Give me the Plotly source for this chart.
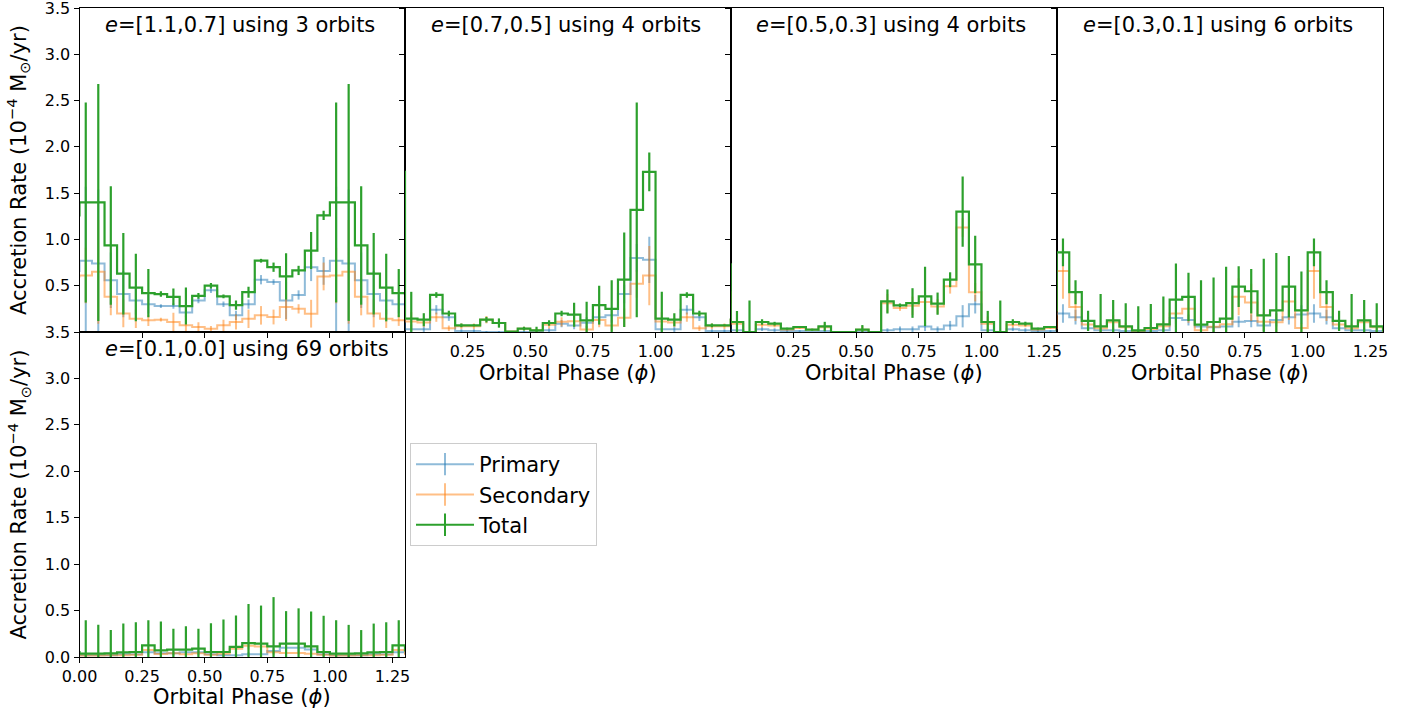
import plotly.graph_objects as go

# ---------------- data ----------------
# orbital-phase bin centres (bin width 0.05); the plot shows phase -> 1.3,
# i.e. the folded curve is repeated after phase 1.0
phase = [0.025, 0.075, 0.125, 0.175, 0.225, 0.275, 0.325, 0.375, 0.425, 0.475,
         0.525, 0.575, 0.625, 0.675, 0.725, 0.775, 0.825, 0.875, 0.925, 0.975]
phase_shown = [-0.025] + phase + [1.025, 1.075, 1.125, 1.175, 1.225, 1.275, 1.325]

titles = ["<i>e</i>=[1.1,0.7] using 3 orbits", "<i>e</i>=[0.7,0.5] using 4 orbits",
          "<i>e</i>=[0.5,0.3] using 4 orbits", "<i>e</i>=[0.3,0.1] using 6 orbits",
          "<i>e</i>=[0.1,0.0] using 69 orbits"]

# panel 1: e = [1.1, 0.7]
p1_primary = [0.77, 0.74, 0.56, 0.41, 0.34, 0.30, 0.28, 0.28, 0.21, 0.34,
              0.45, 0.30, 0.18, 0.30, 0.565, 0.54, 0.34, 0.40, 0.70, 0.66]
p1_primary_err = [0.8, 0.8, 0.3, 0.25, 0.15, 0.1, 0.02, 0.03, 0.05, 0.03,
                  0.03, 0.03, 0.05, 0.05, 0.05, 0.03, 0.2, 0.05, 0.15, 0.15]
p1_secondary = [0.61, 0.65, 0.38, 0.20, 0.144, 0.126, 0.133, 0.108, 0.072, 0.054,
                0.036, 0.072, 0.108, 0.144, 0.18, 0.162, 0.27, 0.25, 0.198, 0.60]
p1_secondary_err = [0.3, 0.56, 0.2, 0.15, 0.1, 0.06, 0.02, 0.1, 0.1, 0.05,
                    0.03, 0.06, 0.08, 0.1, 0.1, 0.08, 0.15, 0.05, 0.15, 0.15]
p1_total = [1.40, 1.40, 0.935, 0.63, 0.48, 0.42, 0.41, 0.38, 0.28, 0.39,
            0.50, 0.385, 0.29, 0.43, 0.77, 0.70, 0.60, 0.665, 0.88, 1.26]
p1_total_err = [1.08, 1.28, 0.64, 0.44, 0.365, 0.26, 0.03, 0.09, 0.2, 0.03,
                0.03, 0.02, 0.05, 0.06, 0.02, 0.05, 0.25, 0.05, 0.2, 0.05]

# panel 2: e = [0.7, 0.5]
p2_primary = [0.03, 0.03, 0.24, 0.16, 0.01, 0.01, 0.0, 0.0, 0.0, 0.0,
              0.0, 0.02, 0.09, 0.07, 0.10, 0.16, 0.18, 0.41, 0.80, 0.78]
p2_primary_err = [0.05, 0.03, 0.05, 0.04, 0.02, 0.02, 0.01, 0.01, 0.0, 0.01,
                  0.01, 0.02, 0.04, 0.04, 0.06, 0.08, 0.08, 0.1, 0.15, 0.25]
p2_secondary = [0.114, 0.103, 0.16, 0.04, 0.062, 0.062, 0.133, 0.097, 0.005, 0.036,
                0.018, 0.077, 0.11, 0.117, 0.026, 0.13, 0.07, 0.155, 0.52, 0.61]
p2_secondary_err = [0.1, 0.05, 0.05, 0.03, 0.03, 0.03, 0.04, 0.04, 0.0, 0.02,
                    0.02, 0.04, 0.05, 0.06, 0.04, 0.08, 0.06, 0.1, 0.15, 0.32]
p2_total = [0.144, 0.133, 0.40, 0.20, 0.072, 0.072, 0.133, 0.097, 0.005, 0.036,
            0.018, 0.097, 0.20, 0.187, 0.126, 0.29, 0.25, 0.565, 1.32, 1.73]
p2_total_err = [0.29, 0.07, 0.03, 0.03, 0.02, 0.01, 0.03, 0.05, 0.0, 0.02,
                0.04, 0.03, 0.03, 0.13, 0.2, 0.21, 0.31, 0.51, 1.16, 0.21]

# panel 3: e = [0.5, 0.3]
p3_primary = [0.02, 0.0, 0.03, 0.02, 0.01, 0.01, 0.0, 0.01, 0.0, 0.0,
              0.0, 0.0, 0.02, 0.03, 0.03, 0.06, 0.03, 0.07, 0.17, 0.30]
p3_primary_err = [0.02, 0.0, 0.02, 0.02, 0.01, 0.01, 0.0, 0.01, 0.0, 0.0,
                  0.0, 0.0, 0.02, 0.03, 0.03, 0.05, 0.03, 0.05, 0.12, 0.1]
p3_secondary = [0.088, 0.0, 0.078, 0.07, 0.026, 0.044, 0.025, 0.05, 0.0, 0.0,
                0.025, 0.0, 0.31, 0.258, 0.283, 0.325, 0.276, 0.495, 1.13, 0.43]
p3_secondary_err = [0.08, 0.0, 0.03, 0.02, 0.01, 0.01, 0.01, 0.04, 0.0, 0.0,
                    0.04, 0.0, 0.1, 0.03, 0.1, 0.1, 0.08, 0.08, 0.1, 0.1]
p3_total = [0.108, 0.0, 0.108, 0.09, 0.036, 0.054, 0.025, 0.06, 0.0, 0.0,
            0.025, 0.0, 0.33, 0.288, 0.313, 0.385, 0.306, 0.565, 1.30, 0.73]
p3_total_err = [0.12, 0.34, 0.03, 0.02, 0.01, 0.01, 0.01, 0.05, 0.0, 0.0,
                0.05, 0.0, 0.13, 0.02, 0.16, 0.32, 0.12, 0.08, 0.38, 0.31]

# panel 4: e = [0.3, 0.1]
p4_primary = [0.20, 0.16, 0.04, 0.02, 0.02, 0.01, 0.01, 0.01, 0.02, 0.15,
              0.13, 0.06, 0.05, 0.06, 0.11, 0.12, 0.07, 0.13, 0.16, 0.19]
p4_primary_err = [0.1, 0.08, 0.03, 0.02, 0.02, 0.01, 0.01, 0.01, 0.02, 0.06,
                  0.06, 0.05, 0.05, 0.05, 0.06, 0.07, 0.06, 0.07, 0.08, 0.1]
p4_secondary = [0.66, 0.27, 0.08, 0.04, 0.106, 0.05, 0.008, 0.033, 0.063, 0.20,
                0.25, 0.02, 0.058, 0.084, 0.38, 0.32, 0.11, 0.104, 0.33, 0.044]
p4_secondary_err = [0.3, 0.15, 0.05, 0.05, 0.08, 0.05, 0.02, 0.04, 0.05, 0.15,
                    0.15, 0.05, 0.06, 0.08, 0.2, 0.2, 0.1, 0.1, 0.2, 0.05]
p4_total = [0.86, 0.43, 0.12, 0.06, 0.126, 0.06, 0.018, 0.043, 0.083, 0.35,
            0.38, 0.08, 0.108, 0.144, 0.49, 0.44, 0.18, 0.234, 0.49, 0.234]
p4_total_err = [0.15, 0.13, 0.11, 0.35, 0.22, 0.25, 0.26, 0.26, 0.30, 0.39,
                0.26, 0.48, 0.48, 0.56, 0.22, 0.24, 0.61, 0.62, 0.33, 0.42]

# panel 5: e = [0.1, 0.0]
p5_primary = [0.02, 0.02, 0.02, 0.03, 0.03, 0.05, 0.04, 0.04, 0.05, 0.05,
              0.03, 0.02, 0.02, 0.03, 0.03, 0.065, 0.10, 0.10, 0.08, 0.03]
p5_primary_err = [0.02, 0.02, 0.02, 0.02, 0.02, 0.03, 0.02, 0.02, 0.03, 0.03,
                  0.02, 0.02, 0.02, 0.02, 0.02, 0.03, 0.04, 0.04, 0.03, 0.02]
p5_secondary = [0.016, 0.016, 0.02, 0.02, 0.024, 0.076, 0.032, 0.04, 0.03, 0.04,
                0.024, 0.034, 0.088, 0.12, 0.114, 0.05, 0.044, 0.044, 0.035, 0.024]
p5_secondary_err = [0.02, 0.02, 0.02, 0.02, 0.02, 0.03, 0.02, 0.02, 0.02, 0.02,
                    0.02, 0.02, 0.03, 0.04, 0.04, 0.03, 0.02, 0.02, 0.02, 0.02]
p5_total = [0.036, 0.036, 0.04, 0.05, 0.054, 0.126, 0.072, 0.08, 0.08, 0.09,
            0.054, 0.054, 0.108, 0.15, 0.144, 0.115, 0.144, 0.144, 0.115, 0.054]
p5_total_err = [0.36, 0.31, 0.25, 0.31, 0.32, 0.27, 0.31, 0.225, 0.25, 0.215,
                0.31, 0.35, 0.34, 0.42, 0.41, 0.53, 0.35, 0.38, 0.375, 0.39]

x_ticks = [0.0, 0.25, 0.5, 0.75, 1.0, 1.25]
y_ticks = [0.0, 0.5, 1.0, 1.5, 2.0, 2.5, 3.0, 3.5]

# ---------------- figure ----------------
W, H = 1421, 717
FONT = "DejaVu Sans"
TICK_SIZE = 16
TEXT_SIZE = 21
C_PRI = "rgba(31,119,180,0.5)"
C_SEC = "rgba(255,127,14,0.5)"
C_TOT = "#2ca02c"


def px(x):
    return x / W


def py(y):
    return 1 - y / H


panel_data = [
    (p1_primary, p1_primary_err, p1_secondary, p1_secondary_err, p1_total, p1_total_err),
    (p2_primary, p2_primary_err, p2_secondary, p2_secondary_err, p2_total, p2_total_err),
    (p3_primary, p3_primary_err, p3_secondary, p3_secondary_err, p3_total, p3_total_err),
    (p4_primary, p4_primary_err, p4_secondary, p4_secondary_err, p4_total, p4_total_err),
    (p5_primary, p5_primary_err, p5_secondary, p5_secondary_err, p5_total, p5_total_err),
]

# pixel boxes of the five axes  (left, right, top, bottom)
boxes = [(79.5, 405, 8, 332), (405, 730.7, 8, 332), (730.7, 1056.7, 8, 332),
         (1056.7, 1383, 8, 332), (79.5, 405, 332, 657)]


def fold(v):
    # phase-folded: bin before 0 is the last bin, bins after 1.0 repeat the start
    return [v[-1]] + list(v) + list(v[:7])


fig = go.Figure()
layout = {}
for i, (box, data) in enumerate(zip(boxes, panel_data)):
    n = "" if i == 0 else str(i + 1)
    xa, ya = "x" + n, "y" + n
    l, r, t, b = box
    pri, pri_e, sec, sec_e, tot, tot_e = data
    for vals, errs, col, w in [(pri, pri_e, C_PRI, 2), (sec, sec_e, C_SEC, 2),
                               (tot, tot_e, C_TOT, 2.2)]:
        fig.add_trace(go.Scatter(
            x=phase_shown, y=fold(vals), xaxis=xa, yaxis=ya, mode="lines",
            line=dict(color=col, width=w, shape="hvh"),
            error_y=dict(type="data", array=fold(errs), color=col, thickness=w, width=0),
            showlegend=False, hoverinfo="skip"))
    xshow = (i != 0)
    xt = x_ticks if (i == 4 or i == 0) else x_ticks[1:]
    yt = y_ticks[1:] if i == 0 else y_ticks
    layout["xaxis" + n] = dict(
        domain=[px(l), px(r)], anchor=ya, range=[0, 1.3], tickvals=xt,
        tickformat=".2f", showticklabels=xshow, ticks="outside", ticklen=5,
        tickcolor="black", showline=True, linecolor="black", linewidth=1,
        mirror=True, showgrid=False, zeroline=False, automargin=False,
        ticklabeloverflow="allow",
        tickfont=dict(family=FONT, size=TICK_SIZE, color="black"))
    layout["yaxis" + n] = dict(
        domain=[py(b), py(t)], anchor=xa, range=[0, 3.5], tickvals=yt,
        tickformat=".1f", showticklabels=(i in (0, 4)), ticks="outside", ticklen=5,
        tickcolor="black", showline=True, linecolor="black", linewidth=1,
        mirror=True, showgrid=False, zeroline=False, automargin=False,
        ticklabeloverflow="allow",
        tickfont=dict(family=FONT, size=TICK_SIZE, color="black"))

# legend-only entries (error-bar style handle)
for name, col in [("Primary", C_PRI), ("Secondary", C_SEC), ("Total", C_TOT)]:
    fig.add_trace(go.Scatter(
        x=[None], y=[None], mode="lines+markers", name=name,
        line=dict(color=col, width=2),
        marker=dict(symbol="line-ns", size=22, color=col,
                    line=dict(color=col, width=2))))

annotations = []
for i, box in enumerate(boxes):
    n = "" if i == 0 else str(i + 1)
    annotations.append(dict(
        text=titles[i], xref="x" + n + " domain", yref="y" + n + " domain",
        x=0.073, y=0.948, xanchor="left", yanchor="middle", showarrow=False,
        font=dict(family=FONT, size=TEXT_SIZE, color="black")))

ytitle = "Accretion Rate (10<sup>−4</sup> M<sub>⊙</sub>/yr)"
for (l, r, t, b) in [boxes[0], boxes[4]]:
    annotations.append(dict(
        text=ytitle, xref="paper", yref="paper", x=px(18), y=py((t + b) / 2),
        xanchor="center", yanchor="middle", textangle=-90, showarrow=False,
        font=dict(family=FONT, size=TEXT_SIZE, color="black")))
for (l, r, t, b), yc in [(boxes[1], 373), (boxes[2], 373), (boxes[3], 373), (boxes[4], 697)]:
    annotations.append(dict(
        text="Orbital Phase (<i>ϕ</i>)", xref="paper", yref="paper",
        x=px((l + r) / 2), y=py(yc), xanchor="center", yanchor="middle",
        showarrow=False, font=dict(family=FONT, size=TEXT_SIZE, color="black")))

fig.update_layout(
    **layout,
    width=W, height=H, margin=dict(l=0, r=0, t=0, b=0, autoexpand=False),
    paper_bgcolor="white", plot_bgcolor="white",
    font=dict(family=FONT, size=TICK_SIZE, color="black"),
    annotations=annotations,
    showlegend=True,
    legend=dict(x=px(410), y=py(443), xanchor="left", yanchor="top",
                bgcolor="white", bordercolor="#cccccc", borderwidth=1,
                font=dict(family=FONT, size=TEXT_SIZE, color="black"),
                itemwidth=58, tracegroupgap=0),
)

# remove the browser's default 8px page margin so the figure fills the window
fig.write_html("out.html", config={"displayModeBar": False},
               post_script="document.body.style.margin='0px';")
